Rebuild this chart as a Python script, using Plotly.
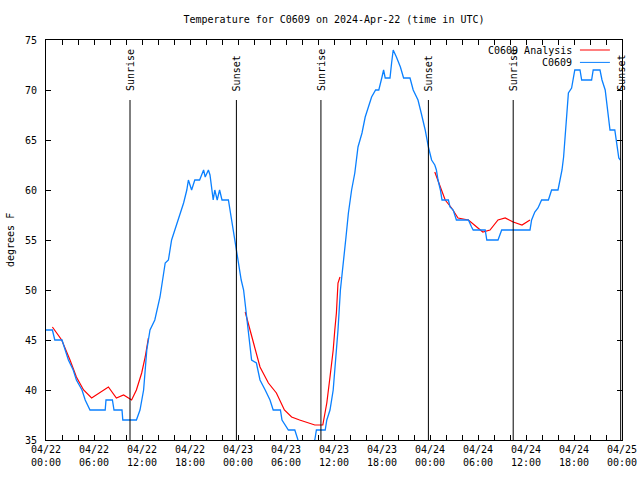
import pandas as pd
import plotly.graph_objects as go

BASE = pd.Timestamp("2024-04-22 00:00")

# Observed temperature (hours since 2024-04-22 00:00 UTC, degrees F)
obs_hours = [0.0, 0.8, 1.1, 2.0, 2.8, 3.4, 3.8, 4.5, 4.9, 5.5, 7.4, 7.5, 8.3, 8.5, 9.5, 9.6, 11.3,
             11.75, 12.2, 12.4, 12.6, 12.8, 13.0, 13.6, 14.25, 14.9, 15.3, 15.7, 16.1, 16.5, 17.2,
             17.6, 17.8, 18.2, 18.6, 19.2, 19.7, 19.9, 20.3, 20.5, 20.7, 20.9, 21.1, 21.4, 21.7,
             22.0, 22.8, 23.0, 23.2, 23.4, 23.7, 24.0, 24.4, 24.7, 24.9, 25.1, 25.5, 25.7, 26.3,
             26.75, 27.4, 28.0, 28.4, 29.3, 29.5, 30.3, 31.1, 31.5, 31.7, 33.4, 33.6, 33.8, 34.9,
             35.1, 35.5, 35.9, 36.2, 36.5, 36.8, 37.2, 37.5, 37.8, 38.2, 38.6, 39.0, 39.5, 39.9,
             40.3, 40.7, 41.2, 41.6, 42.0, 42.2, 42.4, 43.0, 43.2, 43.4, 43.8, 44.3, 44.7, 45.5,
             45.9, 46.5, 46.9, 47.4, 47.8, 48.2, 48.6, 48.8, 49.0, 49.3, 49.5, 50.3, 50.5, 50.9,
             51.3, 52.8, 53.2, 53.4, 54.9, 55.1, 56.5, 56.96, 60.5, 60.7, 61.1, 61.5, 61.95, 62.8,
             63.2, 64.0, 64.25, 64.5, 64.7, 64.9, 65.1, 65.3, 65.7, 65.9, 66.1, 66.75, 66.96, 68.2,
             68.4, 69.25, 69.5, 69.9, 70.1, 70.3, 70.5, 71.1, 71.3, 71.6, 71.8]
obs_temps = [46, 46, 45, 45, 43, 42, 41, 40, 39, 38, 38, 39, 39, 38, 38, 37, 37,
             38, 40, 42, 44, 45, 46, 47, 49.3, 52.7, 53, 55, 56, 57, 58.7,
             60, 61, 60, 61, 61, 62, 61.3, 62, 61.5, 60, 59, 60, 59, 60,
             59, 59, 58, 57, 56, 54.7, 53, 51, 50, 48.7, 47.3, 44.3, 43, 42.7,
             41, 40, 39, 38, 38, 37, 36, 36, 35, 34.5, 34.5, 35, 36, 36,
             37, 38, 40, 42.7, 46, 50, 52.7, 55.3, 57.7, 60, 61.7, 64.3, 65.7, 67.3,
             68.3, 69.3, 70, 70, 71.3, 72, 71.2, 71.2, 72.7, 74, 73.3, 72.3, 71.2, 71.2,
             70, 69, 67.7, 66, 64.3, 63, 62.5, 62, 61, 60, 59, 59, 58.3, 58,
             57, 57, 56.3, 56, 56, 55, 55, 56, 56, 57, 57.8, 58.2, 59, 59,
             60, 60, 61, 62, 63.3, 65.3, 67.7, 69.7, 70.2, 71, 72, 72, 71, 71,
             72, 72, 71, 70, 68.7, 67.3, 66, 66, 64.7, 63.2, 63]

# Analysis temperature (None = gap)
ana_hours = [0.8, 1.96, 3.0, 3.8, 4.7, 5.7, 7.8, 8.8, 9.7, 10.7, 11.3, 11.96, 12.4, 12.8, 12.9,
             24.9, 25.5, 26.1, 26.75, 27.8, 28.8, 29.8, 30.7, 31.7, 33.6, 34.6, 35.1, 35.5, 35.9,
             36.1, 36.3, 36.5, 36.75, 36.8,
             48.6, 49.3, 49.9, 50.7, 51.5, 52.8, 53.8, 54.6, 55.5, 56.5, 57.4, 58.4, 59.5, 60.5]
ana_temps = [46.3, 45, 43, 41.3, 40, 39.2, 40.3, 39.2, 39.5, 39, 40, 41.7, 43.3, 45.2, None,
             47.8, 46, 44, 42.3, 40.7, 39.7, 38, 37.3, 37, 36.5, 36.5, 38.7, 41.3, 44,
             46, 47.7, 50.7, 51.3, None,
             61.8, 60.3, 59, 58.2, 57.2, 57, 56.3, 55.8, 56, 57, 57.2, 56.8, 56.5, 57]

sun_events = ["Sunrise", "Sunset", "Sunrise", "Sunset", "Sunrise", "Sunset"]
sun_times = ["2024-04-22 10:30", "2024-04-22 23:48", "2024-04-23 10:22",
             "2024-04-23 23:48", "2024-04-24 10:24", "2024-04-24 23:50"]

series_names = ["C0609 Analysis", "C0609"]
series_colors = ["#ff0000", "#0a80ff"]

title_text = "Temperature for C0609 on 2024-Apr-22 (time in UTC)"
y_title = "degrees F"

FONT = "DejaVu Sans Mono"

obs_x = [BASE + pd.Timedelta(hours=h) for h in obs_hours]
ana_x = [BASE + pd.Timedelta(hours=h) for h in ana_hours]

fig = go.Figure()
fig.add_trace(go.Scatter(x=ana_x, y=ana_temps, mode="lines", name=series_names[0],
                         line=dict(color=series_colors[0], width=1.2), connectgaps=False,
                         showlegend=False))
fig.add_trace(go.Scatter(x=obs_x, y=obs_temps, mode="lines", name=series_names[1],
                         line=dict(color=series_colors[1], width=1.3), showlegend=False))

# sunrise / sunset markers
for ev, t in zip(sun_events, sun_times):
    fig.add_shape(type="line", xref="x", yref="y", x0=t, x1=t, y0=35, y1=69,
                  line=dict(color="black", width=1))
    fig.add_annotation(x=t, y=69, xref="x", yref="y", text=ev, textangle=-90,
                       showarrow=False, yanchor="bottom", xanchor="center", yshift=7,
                       font=dict(family=FONT, size=10, color="black"))

# custom gnuplot-style legend
for i, (nm, col) in enumerate(zip(series_names, series_colors)):
    yp = 0.975 - i * 0.031
    fig.add_annotation(x=0.917, y=yp, xref="paper", yref="paper", text=nm, showarrow=False,
                       xanchor="right", yanchor="middle",
                       font=dict(family=FONT, size=10, color="black"))
    fig.add_shape(type="line", xref="paper", yref="paper", x0=0.927, x1=0.979, y0=yp, y1=yp,
                  line=dict(color=col, width=1))

# x ticks every 2 hours, labels every 6 hours
tick_vals = [BASE + pd.Timedelta(hours=h) for h in range(0, 73, 2)]
tick_text = [(v.strftime("%m/%d") + "<br>" + v.strftime("%H:%M")) if v.hour % 6 == 0 else ""
             for v in tick_vals]

fig.update_layout(
    width=640, height=480, autosize=False,
    margin=dict(l=46, r=18, t=40, b=40, autoexpand=False),
    paper_bgcolor="white", plot_bgcolor="white",
    font=dict(family=FONT, size=10, color="black"),
    title=dict(text=title_text, x=0.5, xref="paper", y=1 - 19 / 480, yanchor="middle",
               xanchor="center", font=dict(family=FONT, size=10, color="black")),
    xaxis=dict(range=[BASE, BASE + pd.Timedelta(hours=72)], tickvals=tick_vals,
               ticktext=tick_text, ticks="inside", ticklen=5, tickcolor="black",
               showline=True, linecolor="black", linewidth=1, mirror="ticks",
               showgrid=False, zeroline=False, tickangle=0, automargin=False,
               tickfont=dict(family=FONT, size=10)),
    yaxis=dict(range=[35, 75], dtick=5, tick0=35, ticks="inside", ticklen=5,
               tickcolor="black", showline=True, linecolor="black", linewidth=1,
               mirror="ticks", showgrid=False, zeroline=False, ticklabelstandoff=6,
               automargin=False, tickfont=dict(family=FONT, size=10)),
)

fig.add_annotation(x=-36 / 576, y=0.5, xref="paper", yref="paper", text=y_title,
                   textangle=-90, showarrow=False, xanchor="center", yanchor="middle",
                   font=dict(family=FONT, size=10, color="black"))

fig.write_html("out.html", config={"displayModeBar": False},
               post_script="document.body.style.margin='0';document.body.style.overflow='hidden';")
